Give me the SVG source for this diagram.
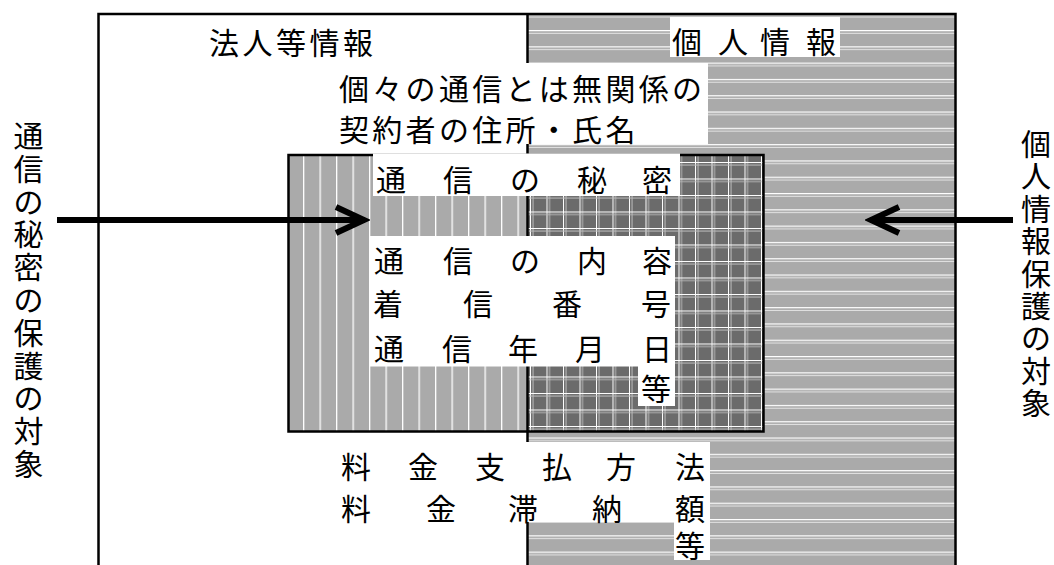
<svg xmlns="http://www.w3.org/2000/svg" width="1054" height="565" viewBox="0 0 1054 565">
  <style>
    .t { font-family: "Noto Sans CJK JP", "Noto Sans CJK SC", sans-serif; font-size: 30px; fill: #000; text-anchor: middle; dominant-baseline: central; }
    .frame { fill: none; stroke: #000; stroke-width: 2.5; }
    .wbox { fill: #fff; stroke: none; }
    .arrow { fill: none; stroke: #000; stroke-width: 6; }
  </style>
  <defs>
    <pattern id="hlines" patternUnits="userSpaceOnUse" x="0" y="30" width="20" height="16.3">
      <rect width="20" height="16.3" fill="#aaaaaa"/>
      <rect y="0" width="20" height="1.2" fill="#ffffff"/>
      <rect y="2.8" width="20" height="1" fill="#e4e4e4"/>
    </pattern>
    <pattern id="vlines" patternUnits="userSpaceOnUse" x="303" y="0" width="16.5" height="20">
      <rect width="16.5" height="20" fill="#aaaaaa"/>
      <rect x="0" width="1.3" height="20" fill="#ffffff"/>
    </pattern>
    <pattern id="grid" patternUnits="userSpaceOnUse" x="530" y="162" width="16.5" height="16.5">
      <rect width="16.5" height="16.5" fill="#6b6b6b"/>
      <rect x="0" width="1" height="16.5" fill="#ffffff"/>
      <rect x="2.5" width="1" height="16.5" fill="#bdbdbd"/>
      <rect y="0" width="16.5" height="1" fill="#ffffff"/>
      <rect y="2.5" width="16.5" height="1" fill="#bdbdbd"/>
    </pattern>
    <marker id="head" markerUnits="userSpaceOnUse" markerWidth="40" markerHeight="40" viewBox="-4 -4 40 40" refX="30" refY="13" orient="auto">
      <path d="M2,0 L30,13 L2,26" fill="none" stroke="#000" stroke-width="6" stroke-linejoin="miter"/>
    </marker>
  </defs>

  <rect width="1054" height="565" fill="#fff"/>

  <g id="outer-frame">
    <rect x="527.5" y="14" width="428" height="560" fill="url(#hlines)"/>
    <rect x="98.5" y="14" width="857" height="600" class="frame"/>
  </g>

  <g id="secret-area">
    <rect x="288.5" y="155" width="239" height="276.5" fill="url(#vlines)"/>
    <rect x="527.5" y="155" width="236" height="276.5" fill="url(#grid)"/>
  </g>

  <g id="divider">
    <line x1="527.5" y1="14" x2="527.5" y2="565" stroke="#000" stroke-width="2.5"/>
  </g>

  <g id="secret-frame">
    <rect x="288.5" y="155" width="475" height="276.5" class="frame"/>
  </g>

  <g id="corporate-info">
    <text class="t" x="224 257.5 291 324.5 358" y="41">法人等情報</text>
  </g>

  <g id="personal-info">
    <rect class="wbox" x="670" y="17" width="170" height="40"/>
    <text class="t" x="687 733 775 821" y="40">個人情報</text>
  </g>

  <g id="subscriber-info">
    <rect class="wbox" x="335" y="63" width="373" height="81"/>
    <text class="t" x="354 387.3 420.6 453.9 487.2 520.5 553.8 587.1 620.4 653.7 687" y="87">個々の通信とは無関係の</text>
    <text class="t" x="354 387.3 420.6 453.9 487.2 520.5 553.8 587.1 620.4" y="128">契約者の住所・氏名</text>
  </g>

  <g id="secret-title">
    <rect class="wbox" x="373" y="153.5" width="307" height="42.5"/>
    <text class="t" x="391 458 525 592 657" y="178">通信の秘密</text>
  </g>

  <g id="secret-items">
    <rect class="wbox" x="370" y="236" width="305" height="130.5"/>
    <rect class="wbox" x="638" y="365" width="37" height="41"/>
    <text class="t" x="389 458 525 592 657" y="259">通信の内容</text>
    <text class="t" x="388 478 567 656" y="302">着信番号</text>
    <text class="t" x="389 457 523 590 657" y="347">通信年月日</text>
    <text class="t" x="656" y="387">等</text>
  </g>

  <g id="billing-info">
    <rect class="wbox" x="330" y="442" width="380" height="80"/>
    <rect class="wbox" x="674" y="521" width="36" height="39"/>
    <text class="t" x="356 423 490 557 621 690" y="465">料金支払方法</text>
    <text class="t" x="356 441 523 607 690" y="507">料金滞納額</text>
    <text class="t" x="690" y="543.5">等</text>
  </g>

  <g id="label-secrecy">
    <text class="t" x="28.5 28.5 28.5 28.5 28.5 28.5 28.5 28.5 28.5 28.5 28.5" y="134 166.8 199.6 232.4 265.2 298 330.8 363.6 396.4 429.2 462">通信の秘密の保護の対象</text>
  </g>

  <g id="label-privacy">
    <text class="t" x="1036 1036 1036 1036 1036 1036 1036 1036 1036" y="142 174.4 206.8 239.2 271.6 304 336.4 368.8 401.2">個人情報保護の対象</text>
  </g>

  <g id="connectors">
    <line x1="57" y1="220" x2="364" y2="220" class="arrow" marker-end="url(#head)"/>
    <line x1="1013" y1="220" x2="871" y2="220" class="arrow" marker-end="url(#head)"/>
  </g>
</svg>
